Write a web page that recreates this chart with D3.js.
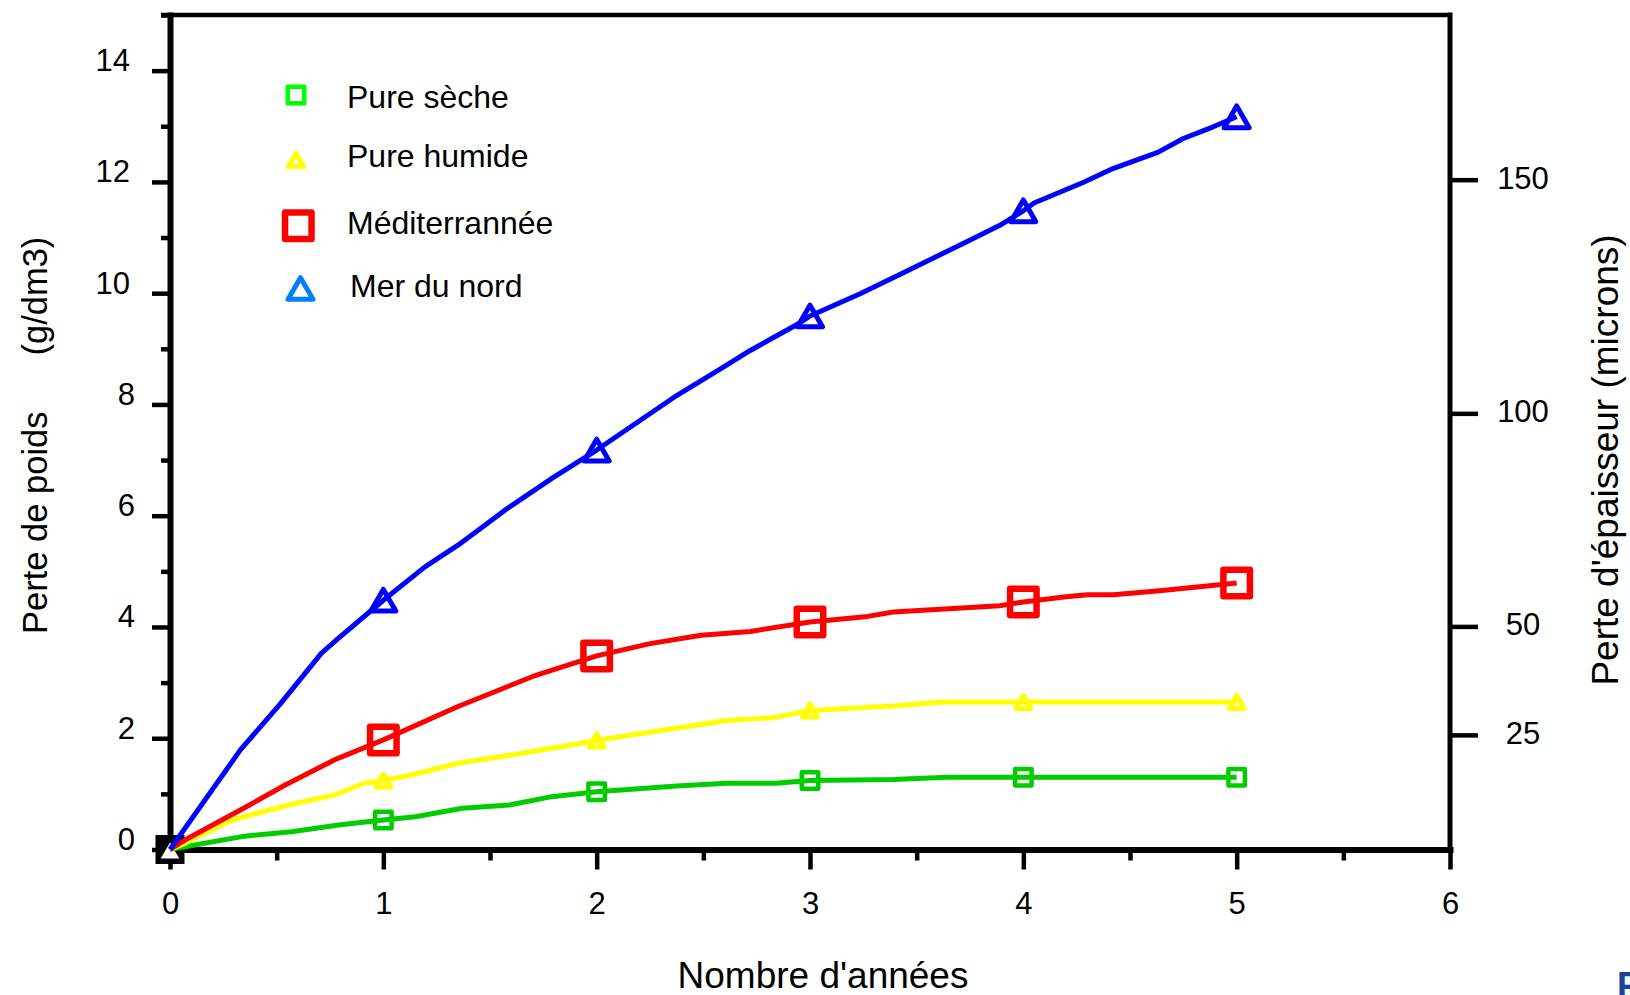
<!DOCTYPE html>
<html>
<head>
<meta charset="utf-8">
<script src="https://cdn.jsdelivr.net/npm/d3@7"></script>
<style>
  body { margin: 0; background: #fff; }
  svg text { font-family: "Liberation Sans", Arial, sans-serif; }
</style>
</head>
<body>
<svg id="chart" width="1630" height="995"></svg>
<script>
// values
var xTicks = [0, 1, 2, 3, 4, 5, 6];
var yTicks = [0, 2, 4, 6, 8, 10, 12, 14];
var rightTicks = [25, 50, 100, 150];
// height of each right-hand tick, in g/dm3 on the left scale
var rightTickEquiv = [2.06, 4.01, 7.84, 12.04];

var secheX = [0, 0.07, 0.35, 0.57, 0.79, 1, 1.15, 1.37, 1.59, 1.79, 2, 2.375, 2.61, 2.84, 3, 3.39, 3.64, 4, 5];
var secheY = [0, 0.05, 0.24, 0.32, 0.44, 0.53, 0.59, 0.74, 0.80, 0.95, 1.04, 1.14, 1.19, 1.19, 1.24, 1.26, 1.30, 1.30, 1.30];

var humideX = [0, 0.07, 0.29, 0.555, 0.77, 0.91, 1, 1.13, 1.35, 1.70, 2, 2.13, 2.61, 2.83, 3, 3.39, 3.625, 4, 5];
var humideY = [0, 0.11, 0.53, 0.80, 0.98, 1.19, 1.24, 1.34, 1.55, 1.76, 1.96, 2.04, 2.32, 2.37, 2.50, 2.58, 2.65, 2.65, 2.65];

var medX = [0, 0.07, 0.33, 0.54, 0.77, 1, 1.35, 1.70, 2, 2.25, 2.49, 2.72, 3, 3.27, 3.39, 3.89, 4, 4.19, 4.30, 4.42, 4.64, 5];
var medY = [0, 0.17, 0.71, 1.16, 1.61, 1.97, 2.57, 3.11, 3.48, 3.70, 3.85, 3.92, 4.09, 4.19, 4.27, 4.38, 4.45, 4.54, 4.58, 4.58, 4.65, 4.79];

var nordX = [0, 0.33, 0.52, 0.71, 0.79, 1, 1.195, 1.35, 1.57, 1.79, 2, 2.375, 2.59, 2.72, 2.95, 3, 3.235, 3.445, 3.737, 3.89, 4, 4.05, 4.28, 4.42, 4.63, 4.75, 4.89, 5];
var nordY = [0, 1.79, 2.63, 3.53, 3.80, 4.48, 5.08, 5.47, 6.10, 6.67, 7.18, 8.16, 8.66, 8.97, 9.46, 9.59, 9.99, 10.38, 10.93, 11.22, 11.48, 11.62, 11.99, 12.24, 12.53, 12.78, 12.99, 13.17];

function pts(xs, ys) { return xs.map(function(v, i) { return {x: v, y: ys[i]}; }); }

var series = [
  {name: "Pure sèche",   data: pts(secheX, secheY),  color: "#00cc00", legendColor: "#00ff00", shape: d3.symbolSquare,   size: 272, sw: 4.5},
  {name: "Pure humide",  data: pts(humideX, humideY), color: "#ffff00", legendColor: "#ffff00", shape: d3.symbolTriangle, size: 97,  sw: 5},
  {name: "Méditerrannée", data: pts(medX, medY),      color: "#ff0000", legendColor: "#ff0000", shape: d3.symbolSquare,   size: 702, sw: 6.5},
  {name: "Mer du nord",  data: pts(nordX, nordY),     color: "#0000ff", legendColor: "#0080ff", shape: d3.symbolTriangle, size: 271, sw: 5}
];

var margin = {left: 170, top: 15},
    width = 1280,
    height = 834.5;

var svg = d3.select("#chart");
var canvas = svg.append("g")
    .attr("transform", "translate(" + margin.left + "," + margin.top + ")");

var x = d3.scaleLinear().domain([0, 6]).range([0, width]),
    y = d3.scaleLinear().domain([0, 15]).range([height, 0]),
    yR = d3.scaleLinear().domain(rightTicks).range(rightTickEquiv.map(function(v) { return y(v); }));

// shift so the bounding box of a triangle is centred on the point
function triOffset(size) { return Math.sqrt(size / (3 * Math.sqrt(3))) / 2; }
function symOffset(d) {
  return d.shape === d3.symbolTriangle ? triOffset(d.size) : 0;
}

// ---- axes ----
function styleAxis(g, sw) {
  g.selectAll(".tick line").attr("stroke", "#000").attr("stroke-width", sw);
  g.selectAll(".domain").attr("stroke", "#000").attr("stroke-width", 6).attr("stroke-linecap", "square");
  g.attr("font-family", "Liberation Sans, Arial, sans-serif").attr("font-size", 31);
  g.selectAll("text").attr("fill", "#000");
}

canvas.append("g")
    .call(d3.axisLeft(y).tickValues(d3.range(1, 16, 2)).tickSize(9).tickFormat(""))
    .call(styleAxis, 4.5)
    .select(".domain").remove();
var yAxis = canvas.append("g")
    .call(d3.axisLeft(y).tickValues(yTicks).tickSize(18).tickSizeOuter(0).tickFormat(d3.format("d")))
    .call(styleAxis, 4.5);
yAxis.selectAll("text")
    .attr("dy", 0)
    .attr("x", function(d) { return d >= 10 ? -40 : -35; });

canvas.append("g")
    .attr("transform", "translate(0," + height + ")")
    .call(d3.axisBottom(x).tickValues(d3.range(0.5, 6, 1)).tickSize(11).tickFormat(""))
    .call(styleAxis, 4.5)
    .select(".domain").remove();
var xAxis = canvas.append("g")
    .attr("transform", "translate(0," + height + ")")
    .call(d3.axisBottom(x).tickValues(xTicks).tickSize(20).tickSizeOuter(0).tickFormat(d3.format("d")))
    .call(styleAxis, 4.5);
xAxis.selectAll("text").attr("dy", 0).attr("y", 64);

var rAxis = canvas.append("g")
    .attr("transform", "translate(" + width + ",0)")
    .call(d3.axisRight(yR).tickValues(rightTicks).tickSize(28).tickFormat(d3.format("d")))
    .call(styleAxis, 4.5);
rAxis.select(".domain").remove();
rAxis.selectAll("text").attr("dy", 8.5).attr("x", 73).attr("text-anchor", "middle");

// frame: top and right
canvas.append("line")
    .attr("x1", -9).attr("x2", width).attr("y1", 0).attr("y2", 0)
    .attr("stroke", "#000").attr("stroke-width", 4.5);
canvas.append("line")
    .attr("x1", width).attr("x2", width).attr("y1", 0).attr("y2", height)
    .attr("stroke", "#000").attr("stroke-width", 5).attr("stroke-linecap", "square");

// axis titles
svg.append("text")
    .attr("x", 823).attr("y", 988)
    .attr("text-anchor", "middle")
    .attr("font-size", 37)
    .text("Nombre d'années");

var leftTitle = svg.append("text")
    .attr("transform", "translate(47,634) rotate(-90)")
    .attr("font-size", 34.5);
leftTitle.append("tspan").text("Perte de poids");
leftTitle.append("tspan").attr("dx", 56).text("(g/dm3)");

svg.append("text")
    .attr("transform", "translate(1618,460) rotate(-90)")
    .attr("text-anchor", "middle")
    .attr("font-size", 37)
    .text("Perte d'épaisseur (microns)");

// origin marker (black square with a white triangle inside)
canvas.append("rect")
    .attr("x", x(0) - 14.5).attr("y", y(0) - 14.5)
    .attr("width", 29).attr("height", 29)
    .attr("fill", "#000");
canvas.append("path")
    .attr("d", d3.symbol(d3.symbolTriangle, 150)())
    .attr("transform", "translate(" + x(0) + "," + (y(0) + triOffset(150) + 1) + ")")
    .attr("fill", "#fff");

// ---- lines ----
var line = d3.line()
    .x(function(d) { return x(d.x); })
    .y(function(d) { return y(d.y); });

canvas.selectAll(".curve")
    .data(series)
    .enter()
    .append("path")
    .attr("class", "curve")
    .attr("fill", "none")
    .attr("stroke", function(d) { return d.color; })
    .attr("stroke-width", 5)
    .attr("stroke-linejoin", "round")
    .attr("d", function(d) { return line(d.data); });

// ---- markers at each year ----
series.forEach(function(s) {
  canvas.selectAll(null)
      .data(s.data.filter(function(p) { return p.x > 0 && Number.isInteger(p.x); }))
      .enter()
      .append("path")
      .attr("d", d3.symbol(s.shape, s.size)())
      .attr("transform", function(p) { return "translate(" + x(p.x) + "," + (y(p.y) + symOffset(s)) + ")"; })
      .attr("fill", "none")
      .attr("stroke", s.color)
      .attr("stroke-width", s.sw)
      .attr("stroke-linejoin", "round");
});

// ---- legend ----
var legendRowY = [95, 160, 225.7, 288.5],
    legendSymX = [296, 296, 298.3, 300.5],
    legendTextX = [347, 347, 347, 350],
    legendTextY = [108, 167, 234, 297];

var legend = svg.selectAll(".legend")
    .data(series)
    .enter()
    .append("g")
    .attr("class", "legend");
legend.append("path")
    .attr("d", function(d) { return d3.symbol(d.shape, d.size)(); })
    .attr("transform", function(d, i) { return "translate(" + legendSymX[i] + "," + (legendRowY[i] + symOffset(d)) + ")"; })
    .attr("fill", "none")
    .attr("stroke", function(d) { return d.legendColor; })
    .attr("stroke-width", function(d) { return d.sw; })
    .attr("stroke-linejoin", "round");
legend.append("text")
    .attr("x", function(d, i) { return legendTextX[i]; })
    .attr("y", function(d, i) { return legendTextY[i]; })
    .attr("font-size", 32)
    .text(function(d) { return d.name; });

// cut-off letter at the bottom right corner of the scan
svg.append("text")
    .attr("x", 1617).attr("y", 998)
    .attr("font-size", 36)
    .attr("font-weight", "bold")
    .attr("fill", "#1c449c")
    .text("F");
</script>
</body>
</html>
